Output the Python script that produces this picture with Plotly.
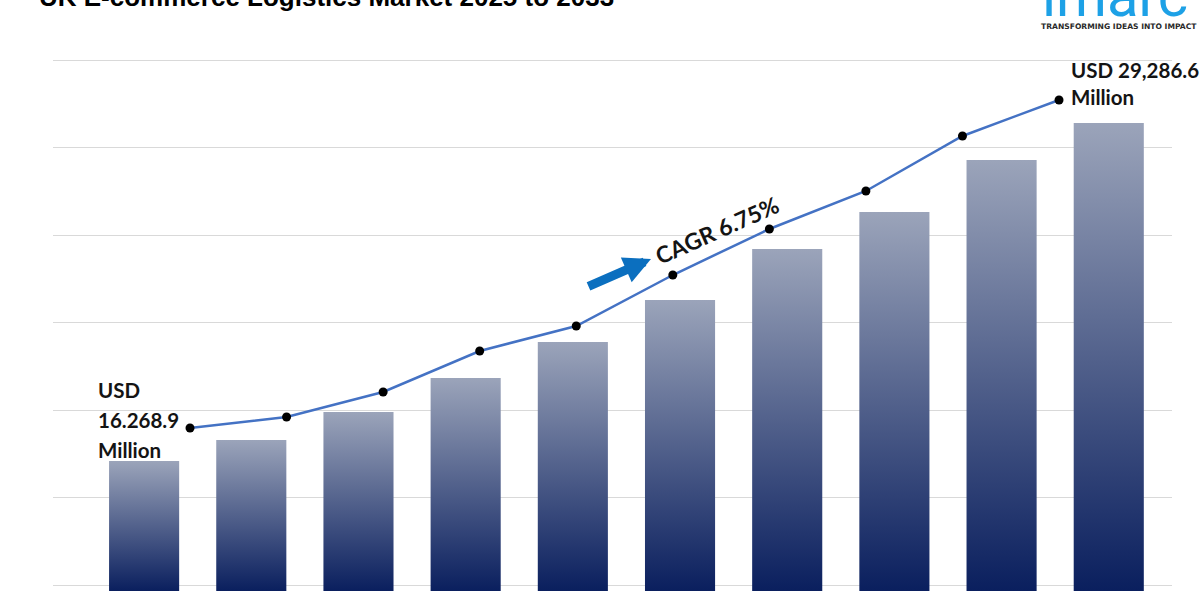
import plotly.graph_objects as go

# ---- data ----
years = ["2024", "2025", "2026", "2027", "2028", "2029", "2030", "2031", "2032", "2033"]
bar_values = [16268.9, 17077, 18156, 19465, 20852, 22469, 24434, 25859, 27861, 29286.6]
line_values = [16268.9, 16705, 17698, 19325, 20317, 22341, 24167, 25675, 27858, 29286.6]
start_label = ["USD", "16.268.9", "Million"]
end_label = ["USD 29,286.6", "Million"]
cagr_label = "CAGR 6.75%"
title_text = "UK E-commerce Logistics Market 2025 to 2033"
logo_text = "imarc"
tagline_text = "TRANSFORMING IDEAS INTO IMPACT"

# ---- layout constants ----
Y_MIN, Y_MAX = 11262, 31906
Y2_MIN, Y2_MAX = 9800, 31072
HALF = 0.327
LABEL_FONT = dict(family="Lato, 'Open Sans', sans-serif", size=20.5, color="#141414")

fig = go.Figure()

# bars with vertical gradient fill
for i, (yr, v) in enumerate(zip(years, bar_values)):
    fig.add_trace(go.Scatter(
        x=[i - HALF, i - HALF, i + HALF, i + HALF, i - HALF],
        y=[Y_MIN, v, v, Y_MIN, Y_MIN],
        mode="lines",
        line=dict(width=0, color="rgba(0,0,0,0)"),
        fill="toself",
        fillgradient=dict(type="vertical",
                          colorscale=[[0, "#0A1F5E"], [1, "#9BA4BA"]]),
        name=yr, showlegend=False, hoverinfo="skip",
    ))

# trend line
fig.add_trace(go.Scatter(
    x=list(range(len(years))), y=line_values,
    xaxis="x2", yaxis="y2",
    mode="lines+markers",
    line=dict(color="#4472C4", width=2.5),
    marker=dict(color="#000000", size=9),
    showlegend=False, hoverinfo="skip",
))

annotations = []
# start label (three lines)
for k, txt in enumerate(start_label):
    annotations.append(dict(
        text="<b>%s</b>" % txt, xref="paper", yref="paper",
        x=0.0384, y=(591 - 390 - 30 * k) / 536, xanchor="left", yanchor="middle",
        showarrow=False, font=LABEL_FONT))
# end label
for k, txt in enumerate(end_label):
    annotations.append(dict(
        text="<b>%s</b>" % txt, xref="paper", yref="paper",
        x=(1069 - 53) / 1119, y=(591 - 70 - 27 * k) / 536, xanchor="left", yanchor="middle",
        showarrow=False, font=LABEL_FONT))
# CAGR text
annotations.append(dict(
    text="<b>%s</b>" % cagr_label, xref="paper", yref="paper",
    x=(717 - 53) / 1119, y=(591 - 230) / 536, xanchor="center", yanchor="middle",
    textangle=-24, showarrow=False,
    font=dict(family="Lato, 'Open Sans', sans-serif", size=23, color="#141414")))
# blue arrow
annotations.append(dict(
    text="", xref="paper", yref="paper",
    x=(651 - 53) / 1119, y=(591 - 259) / 536,
    ax=-64, ay=28, showarrow=True, arrowhead=2, arrowsize=0.6,
    arrowwidth=9, arrowcolor="#0B6FBF", standoff=0))
# title (cut off at the top of the image)
annotations.append(dict(
    text="<b>%s</b>" % title_text, xref="paper", yref="paper",
    x=(37 - 53) / 1119, y=1 + (55 - 14) / 536, xanchor="left", yanchor="bottom",
    showarrow=False,
    font=dict(family="Liberation Sans, Arial, sans-serif", size=26, color="#000000")))
# logo
annotations.append(dict(
    text=logo_text, xref="paper", yref="paper",
    x=(1040 - 53) / 1119, y=1 + (55 - 32) / 536, xanchor="left", yanchor="bottom",
    showarrow=False,
    font=dict(family="Roboto, sans-serif", size=58, color="#1DA1E6")))
annotations.append(dict(
    text="<b>%s</b>" % tagline_text, xref="paper", yref="paper",
    x=(1039 - 53) / 1119, y=1 + (55 - 27) / 536, xanchor="left", yanchor="middle",
    showarrow=False,
    font=dict(family="DejaVu Sans, sans-serif", size=7.6, color="#2A2A2A")))

fig.update_layout(
    width=1200, height=600,
    margin=dict(l=53, r=28, t=55, b=9),
    paper_bgcolor="#FFFFFF", plot_bgcolor="#FFFFFF",
    showlegend=False,
    xaxis=dict(range=[-0.85, 9.59], showgrid=False, zeroline=False,
               showticklabels=False, ticks="", showline=False),
    xaxis2=dict(range=[-1.419, 10.170], overlaying="x", visible=False),
    yaxis=dict(range=[Y_MIN, Y_MAX], tick0=11493, dtick=3370, showgrid=True,
               gridcolor="#D9D9D9", gridwidth=1, zeroline=False,
               showticklabels=False, ticks="", showline=False),
    yaxis2=dict(range=[Y2_MIN, Y2_MAX], overlaying="y", visible=False),
    annotations=annotations,
)

fig.write_html("out.html")
